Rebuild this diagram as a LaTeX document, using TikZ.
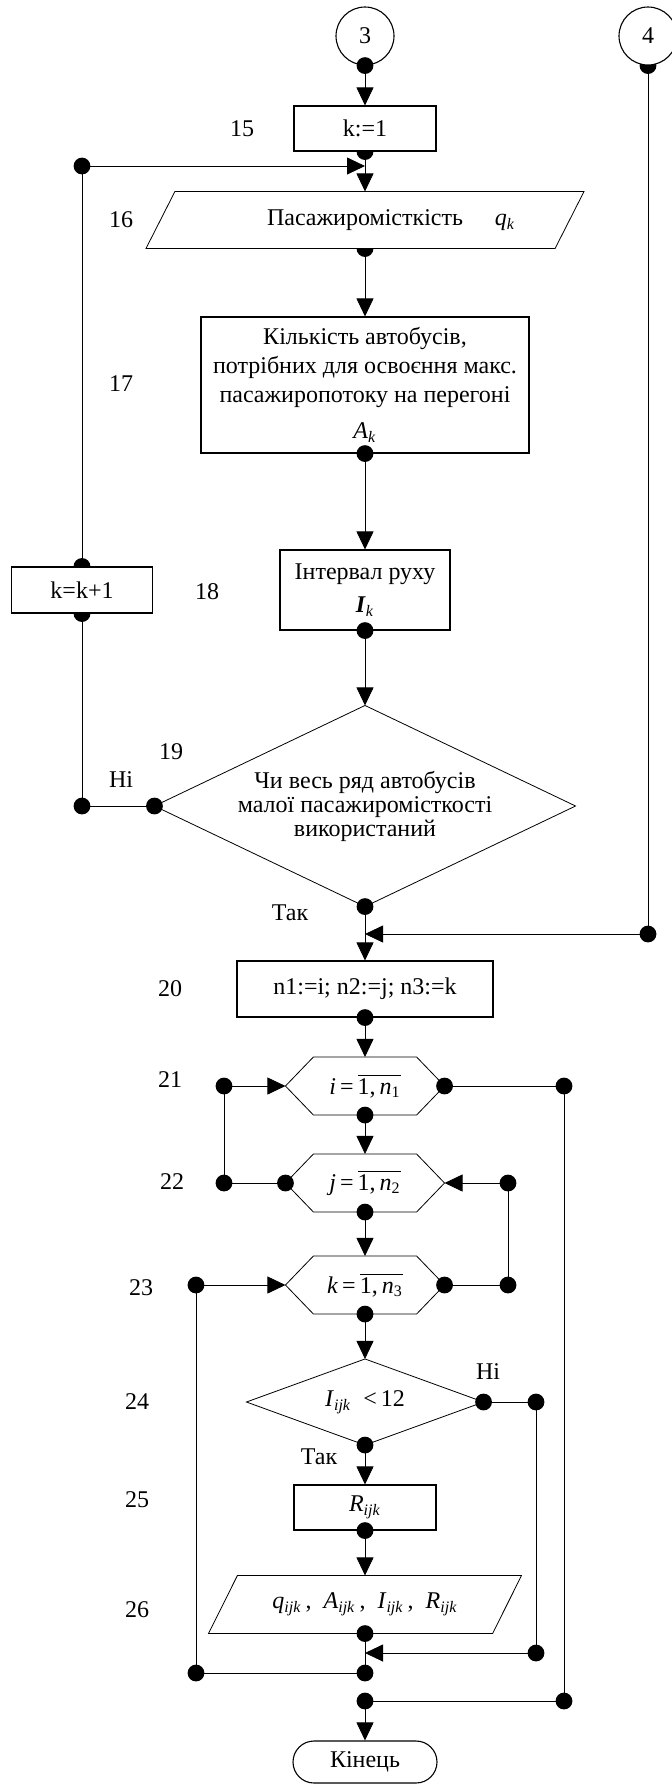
\documentclass[tikz,border=0pt]{standalone}
\usepackage{fontspec}
\setmainfont{Liberation Serif}
\usetikzlibrary{arrows.meta,calc}
\pgfdeclarelayer{background}
\pgfsetlayers{background,main}
\newcommand{\vv}[2]{\textit{#1}\textsubscript{\textit{#2}}}
\newcommand{\ovl}[1]{$\overline{\hbox{#1}}$}
\begin{document}
\begin{tikzpicture}[x=0.5pt,y=-0.5pt,line width=0.55pt,
  font=\fontsize{12}{14.5}\selectfont,
  box/.style={draw,fill=white,rectangle,inner sep=0pt,align=center},
  shp/.style={rectangle,inner sep=0pt,align=center},
  conn/.style={draw,fill=white,circle,inner sep=0pt,minimum size=29pt},
  term/.style={draw,fill=white,rectangle,rounded corners=10.5pt,minimum width=72pt,minimum height=21pt,inner sep=0pt},
  lbl/.style={inner sep=0pt},
  arr/.style={-{Triangle[length=9pt,width=8.5pt]}},
  dotr/.style={fill=black}
]
\useasboundingbox (0,0) rectangle (672,1785);

% ---------- nodes ----------
\node[conn] (c3) at (365,36) {3};
\node[conn] (c4) at (648,36) {4};
\node[box,minimum width=71pt,minimum height=22.5pt] (b15) at (365,128.5) {k:=1};
\node[shp,minimum width=204pt,minimum height=28pt] (p16) at (365,220) {Пасажиромісткість\rlap{\hspace{16pt}\vv{q}{k}}};
\node[box,minimum width=164pt,minimum height=68pt] (b17) at (365,385) {Кількість автобусів,\\ потрібних для освоєння макс.\\ пасажиропотоку на перегоні\\[3.5pt] \vv{A}{k}};
\node[box,minimum width=85pt,minimum height=40pt] (b18) at (365,590) {Інтервал руху\\[2pt] \textbf{\textit{I}}\textsubscript{\textit{k}}};
\node[box,minimum width=70.5pt,minimum height=23pt] (bk) at (82,590) {k=k+1};
\node[shp,minimum width=210pt,minimum height=100pt,font=\fontsize{12}{12}\selectfont] (d19) at (365,806) {Чи весь ряд автобусів\\ малої пасажиромісткості\\ використаний};
\node[box,minimum width=128pt,minimum height=28pt] (b20) at (365,989) {n1:=i; n2:=j; n3:=k};
\node[shp,minimum width=79pt,minimum height=28.5pt] (h21) at (365,1086) {\textit{i}\,=\,\ovl{1,\,\textit{n}\textsubscript{1}}};
\node[shp,minimum width=79pt,minimum height=28.5pt] (h22) at (365,1183) {\textit{j}\,=\,\ovl{1,\,\textit{n}\textsubscript{2}}};
\node[shp,minimum width=79pt,minimum height=28.5pt] (h23) at (365,1285) {\textit{k}\,=\,\ovl{1,\,\textit{n}\textsubscript{3}}};
\node[shp,minimum width=118pt,minimum height=42.5pt] (d24) at (365,1402) {\vv{I}{ijk}\ \ {<}\,12};
\node[box,minimum width=71pt,minimum height=22.5pt] (b25) at (365,1507.5) {\vv{R}{ijk}};
\node[shp,minimum width=141.5pt,minimum height=28.5pt] (p26) at (365,1604.5) {\vv{q}{ijk}\,,\ \ \vv{A}{ijk}\,,\ \ \vv{I}{ijk}\,,\ \ \vv{R}{ijk}};
\node[term] (end) at (365,1762) {Кінець};

% ---------- labels ----------
\node[lbl] (l15) at (242,129) {15};
\node[lbl] (l16) at (121,220) {16};
\node[lbl] (l17) at (121,384) {17};
\node[lbl] (l18) at (207,592) {18};
\node[lbl] (l19) at (171,752) {19};
\node[lbl] (no1) at (121,780) {Ні};
\node[lbl] (yes1) at (290,913) {Так};
\node[lbl] (l20) at (170,989) {20};
\node[lbl] (l21) at (170,1080) {21};
\node[lbl] (l22) at (172,1182) {22};
\node[lbl] (l23) at (141,1288) {23};
\node[lbl] (l24) at (137,1402) {24};
\node[lbl] (no2) at (488,1372) {Ні};
\node[lbl] (yes2) at (319,1457) {Так};
\node[lbl] (l25) at (137,1500) {25};
\node[lbl] (l26) at (137,1610) {26};

% ---------- junction coordinates ----------
\coordinate (j1) at (82,166);   \coordinate (m1) at (365,166);
\coordinate (j2) at (82,806);
\coordinate (j3) at (648,934);  \coordinate (m2) at (365,934);
\coordinate (j4) at (224,1183); \coordinate (j5) at (224,1086);
\coordinate (j6) at (564,1086); \coordinate (j7) at (564,1701); \coordinate (j8) at (365,1701);
\coordinate (j9) at (508,1285); \coordinate (j10) at (508,1183);
\coordinate (j11) at (536,1402); \coordinate (j12) at (536,1653); \coordinate (m3) at (365,1653);
\coordinate (j13) at (365,1673); \coordinate (j14) at (196,1673); \coordinate (j15) at (196,1285);

% ---------- shapes and half-hidden dots ----------
\begin{pgfonlayer}{background}
  \foreach \p in {c4.south,b15.south,p16.south,bk.north,bk.south}
    \fill[dotr] (\p) circle (4.2pt);
  \draw[fill=white] ([xshift=7.25pt]p16.north west) -- ([xshift=7.25pt]p16.north east)
     -- ([xshift=-7.25pt]p16.south east) -- ([xshift=-7.25pt]p16.south west) -- cycle;
  \draw[fill=white] ([xshift=7.25pt]p26.north west) -- ([xshift=7.25pt]p26.north east)
     -- ([xshift=-7.25pt]p26.south east) -- ([xshift=-7.25pt]p26.south west) -- cycle;
  \foreach \d in {d19,d24}
    \draw[fill=white] (\d.north) -- (\d.east) -- (\d.south) -- (\d.west) -- cycle;
  \foreach \h in {h21,h22,h23}
    \draw[fill=white] ([xshift=14pt]\h.north west) -- ([xshift=-14pt]\h.north east) -- (\h.east)
       -- ([xshift=-14pt]\h.south east) -- ([xshift=14pt]\h.south west) -- (\h.west) -- cycle;
\end{pgfonlayer}

% ---------- connectors ----------
\draw[arr] (c3.south) -- (b15.north);
\draw[arr] (b15.south) -- (p16.north);
\draw[arr] (j1) -- (m1);
\draw[arr] (p16.south) -- (b17.north);
\draw[arr] (b17.south) -- (b18.north);
\draw[arr] (b18.south) -- (d19.north);
\draw (d19.west) -- (j2) -- (bk.south);
\draw (bk.north) -- (j1);
\draw[arr] (d19.south) -- (b20.north);
\draw (c4.south) -- (j3);
\draw[arr] (j3) -- (m2);
\draw[arr] (b20.south) -- (h21.north);
\draw[arr] (h21.south) -- (h22.north);
\draw (h22.west) -- (j4) -- (j5);
\draw[arr] (j5) -- (h21.west);
\draw (h21.east) -- (j6) -- (j7) -- (j8);
\draw[arr] (j8) -- (end.north);
\draw[arr] (h22.south) -- (h23.north);
\draw (h23.east) -- (j9) -- (j10);
\draw[arr] (j10) -- (h22.east);
\draw[arr] (h23.south) -- (d24.north);
\draw (d24.east) -- (j11) -- (j12);
\draw[arr] (j12) -- (m3);
\draw[arr] (d24.south) -- (b25.north);
\draw[arr] (b25.south) -- (p26.north);
\draw (p26.south) -- (j13) -- (j14) -- (j15);
\draw[arr] (j15) -- (h23.west);

% ---------- dots ----------
\foreach \p in {c3.south,b17.south,b18.south,d19.west,j2,j1,d19.south,j3,b20.south,
  j5,h21.east,j6,h21.south,h22.west,j4,j10,h22.south,j15,h23.east,j9,h23.south,
  d24.east,j11,d24.south,b25.south,j12,p26.south,j13,j14,j8,j7}
  \fill[dotr] (\p) circle (4.2pt);
\end{tikzpicture}
\end{document}
